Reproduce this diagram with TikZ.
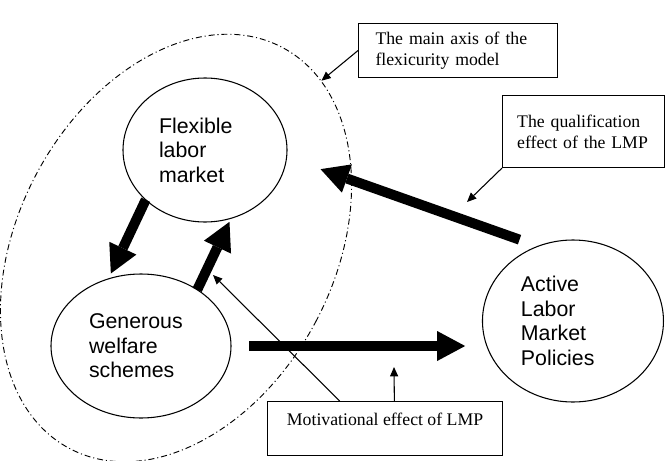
\documentclass[tikz,border=0pt]{standalone}
\usepackage{fontspec}
\setmainfont{Liberation Serif}
\setsansfont{Liberation Sans}
\usetikzlibrary{positioning,arrows.meta,shapes.geometric}

\begin{document}
\begin{tikzpicture}[x=0.75pt,y=-0.75pt,
    blob/.style={draw,ellipse,line width=0.8pt,inner sep=0pt,outer sep=0pt,align=left,
                 font=\sffamily\fontsize{16}{18.4}\selectfont},
    note/.style={draw,line width=0.8pt,align=left,font=\fontsize{13.3}{15.75}\selectfont},
    fat/.style={line width=7.5pt,-{Triangle[length=21pt,width=22.5pt,line width=0pt]}},
    pointer/.style={line width=0.8pt,-{Triangle[length=7pt,width=6pt]}}]
  \useasboundingbox (0,0) rectangle (670,460);
  % dash-dot ring round the two core blocks
  \node[draw,ellipse,line width=0.7pt,dash pattern=on 4.5pt off 2.2pt on 0.8pt off 2.2pt,
        minimum width=237pt,minimum height=340.5pt,rotate=-28] (axis) at (176,248) {};
  \node[blob,minimum width=123pt,minimum height=108pt,text width=69pt] (flex) at (205,150) {Flexible\\labor\\market};
  \node[blob,minimum width=135pt,minimum height=108pt,text width=78pt,below=39pt of flex,xshift=-48pt] (gen) {Generous\\welfare\\schemes};
  \node[blob,minimum width=135.75pt,minimum height=121.5pt,text width=78pt,right=188.6pt of gen,yshift=18.75pt] (almp) {Active\\Labor\\Market\\Policies};
  % callout boxes
  \node[note,anchor=north west,inner xsep=12.75pt,text width=123.75pt,minimum height=40.5pt] (axisbox) at (358,23) {The main axis of the\\flexicurity model};
  \node[note,anchor=north west,inner xsep=11pt,text width=99.5pt,minimum height=54pt] (qualbox) at (502,95) {The qualification\\\mbox{effect of the LMP}};
  \node[note,anchor=north west,align=center,minimum width=176.25pt,inner ysep=6pt,text height=12pt,text depth=16.5pt] (motivbox) at (267,401) {Motivational effect of LMP};
  \coordinate (qualtip) at (467,202);
  \coordinate (motivtip) at (213,275);
  \coordinate (pushtip) at (394,367);
  % thick effect arrows
  \draw[fat,shorten >=4.5pt] (flex.220) -- (gen.116);
  \draw[fat,shorten >=3pt] (gen.45) -- (flex.291);
  \draw[fat,shorten <=14.8pt,shorten >=27pt] (almp.115) -- (flex.-5);
  \draw[fat,shorten <=13.5pt,shorten >=13pt] (gen.east) -- (gen.east -| almp.west);
  % thin pointers from the boxes
  \draw[pointer] (axisbox.west) -- (axis.77);
  \draw[pointer] (qualbox.south west) -- (qualtip);
  \draw[pointer] ([xshift=-34pt]motivbox.north) -- (motivtip);
  \draw[pointer] ([xshift=7pt]motivbox.north) -- (pushtip);
\end{tikzpicture}
\end{document}
